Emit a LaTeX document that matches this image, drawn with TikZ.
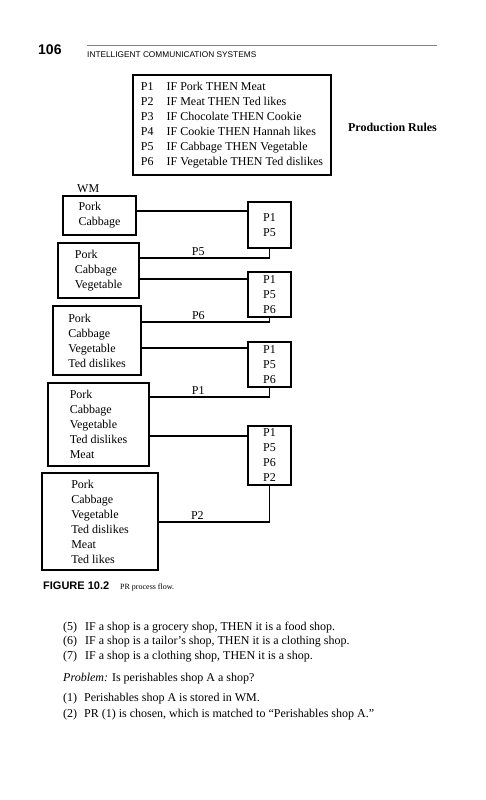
\documentclass[tikz,border=0pt]{standalone}
\usepackage{fontspec}
\setmainfont{Liberation Serif}
\newfontfamily\headfont{Liberation Sans}
\begin{document}
\begin{tikzpicture}[x=1pt,y=-1pt,
	box/.style={draw, line width=1.1pt, inner sep=0pt, align=left, font=\fontsize{12}{15}\selectfont},
	link/.style={line width=1.1pt},
	lab/.style={inner sep=2pt, font=\fontsize{12}{15}\selectfont},
	line/.style={anchor=base west, inner sep=0pt, font=\fontsize{12}{15}\selectfont}]

	\useasboundingbox (0,0) rectangle (486,800);

	% page header
	\node 	(page)		at	(38,55)		[anchor=base west, inner sep=0pt, font=\headfont\bfseries\fontsize{14}{16}\selectfont]{106};
	\node 	(running)	at	(87,57)		[anchor=base west, inner sep=0pt, font=\headfont\fontsize{8.3}{10}\selectfont]{INTELLIGENT COMMUNICATION SYSTEMS};
	\draw[gray, line width=0.6pt]	(87,45)	--	(437,45);

	% production rules
	\node 	(rules)		at	(232,125)	[box, minimum width=198, minimum height=100]{%
		\begin{tabular}{@{}l@{\hspace{13pt}}l@{}}
		P1 & IF Pork THEN Meat\\
		P2 & IF Meat THEN Ted likes\\
		P3 & IF Chocolate THEN Cookie\\
		P4 & IF Cookie THEN Hannah likes\\
		P5 & IF Cabbage THEN Vegetable\\
		P6 & IF Vegetable THEN Ted dislikes
		\end{tabular}};
	\node 	(rulesname)	at	(392.5,131.5)	[anchor=base, inner sep=0pt, font=\bfseries\fontsize{12}{15}\selectfont]{Production Rules};

	% working memory
	\node 	(wmname)	at	(77,192)	[anchor=base west, inner sep=0pt, font=\fontsize{12}{15}\selectfont]{WM};

	\node 	(wm1)		at	(99.5,215.5)	[box, minimum width=73, minimum height=39]{Pork\\Cabbage};
	\node 	(wm2)		at	(98.5,270.5)	[box, minimum width=81, minimum height=55]{Pork\\Cabbage\\Vegetable};
	\node 	(wm3)		at	(97,340.5)	[box, minimum width=88, minimum height=69]{Pork\\Cabbage\\Vegetable\\Ted dislikes};
	\node 	(wm4)		at	(98.5,424.5)	[box, minimum width=101, minimum height=83]{Pork\\Cabbage\\Vegetable\\Ted dislikes\\Meat};
	\node 	(wm5)		at	(100,521.5)	[box, minimum width=116, minimum height=97]{Pork\\Cabbage\\Vegetable\\Ted dislikes\\Meat\\Ted likes};

	% conflict sets
	\node 	(pr1)		at	(269.5,225)	[box, minimum width=43, minimum height=46]{P1\\P5};
	\node 	(pr2)		at	(269.5,294.5)	[box, minimum width=43, minimum height=45]{P1\\P5\\P6};
	\node 	(pr3)		at	(269.5,364.5)	[box, minimum width=43, minimum height=45]{P1\\P5\\P6};
	\node 	(pr4)		at	(269.5,455.5)	[box, minimum width=43, minimum height=59]{P1\\P5\\P6\\P2};

	\draw[link]	([yshift=4.5pt]wm1.east)	--	([yshift=4.5pt]wm1.east -| pr1.west);
	\draw[link]	(pr1.south)	|-	node[lab, above, pos=0.774]{P5}	([yshift=12.5pt]wm2.east);
	\draw[link]	([yshift=-8.5pt]wm2.east)	--	([yshift=-8.5pt]wm2.east -| pr2.west);
	\draw[link]	(pr2.south)	|-	node[lab, above, pos=0.778]{P6}	([yshift=18.5pt]wm3.east);
	\draw[link]	([yshift=-7.5pt]wm3.east)	--	([yshift=-7.5pt]wm3.east -| pr3.west);
	\draw[link]	(pr3.south)	|-	node[lab, above, pos=0.797]{P1}	([yshift=27.5pt]wm4.east);
	\draw[link]	([yshift=-11.5pt]wm4.east)	--	([yshift=-11.5pt]wm4.east -| pr4.west);
	\draw[link]	(pr4.south)	|-	node[lab, above, pos=0.825]{P2}	([yshift=-0.5pt]wm5.east);

	% caption
	\node 	(fig)		at	(43,589)	[anchor=base west, inner sep=0pt, font=\headfont\bfseries\fontsize{11}{13}\selectfont]{FIGURE 10.2};
	\node 	(figtext)	at	(120,589)	[anchor=base west, inner sep=0pt, font=\fontsize{8}{10}\selectfont]{PR process flow.};

	% body text
	\node 	(l5)		at	(63,630.5)	[line]{\makebox[22pt][l]{(5)}IF a shop is a grocery shop, THEN it is a food shop.};
	\node 	(l6)		at	(63,644.5)	[line]{\makebox[22pt][l]{(6)}IF a shop is a tailor's shop, THEN it is a clothing shop.};
	\node 	(l7)		at	(63,659.5)	[line]{\makebox[22pt][l]{(7)}IF a shop is a clothing shop, THEN it is a shop.};
	\node 	(prob)		at	(63,681.5)	[line]{\textit{Problem:} Is perishables shop A a shop?};
	\node 	(s1)		at	(63,701.5)	[line]{\makebox[21pt][l]{(1)}Perishables shop A is stored in WM.};
	\node 	(s2)		at	(63,717.5)	[line]{\makebox[21pt][l]{(2)}PR (1) is chosen, which is matched to ``Perishables shop A.''};

\end{tikzpicture}
\end{document}
